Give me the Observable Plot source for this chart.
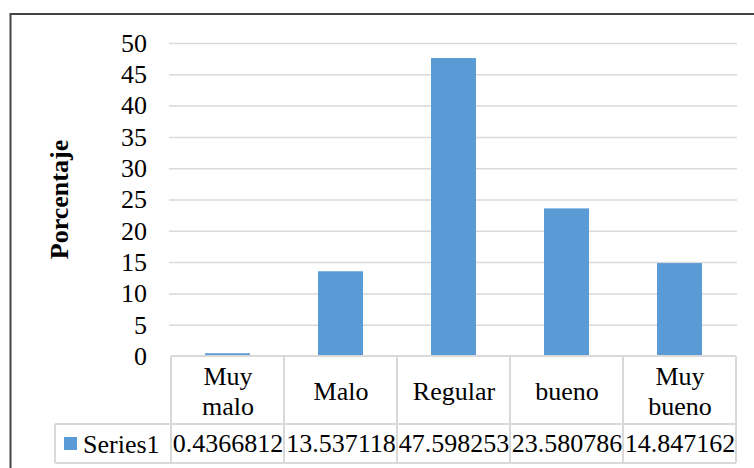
<!DOCTYPE html>
<html>
<head>
<meta charset="utf-8">
<script src="https://cdn.jsdelivr.net/npm/d3@7"></script>
<script src="https://cdn.jsdelivr.net/npm/@observablehq/plot@0.6"></script>
<style>
  html, body { margin: 0; padding: 0; background: #fff; }
  #chart { position: relative; width: 754px; height: 468px; overflow: hidden; }
</style>
</head>
<body>
<div id="chart"></div>
<script>
const categories = ["Muy malo", "Malo", "Regular", "bueno", "Muy bueno"];
const categoryLabels = ["Muy\nmalo", "Malo", "Regular", "bueno", "Muy\nbueno"];
const values = [0.4366812, 13.537118, 47.598253, 23.580786, 14.847162];
const valueLabels = ["0.4366812", "13.537118", "47.598253", "23.580786", "14.847162"];
const seriesName = "Series1";
const yTicks = [0, 5, 10, 15, 20, 25, 30, 35, 40, 45, 50];
const yLabel = "Porcentaje";

const data = categories.map((c, i) => ({cat: c, label: categoryLabels[i], value: values[i], vlabel: valueLabels[i]}));

const font = "'Liberation Serif', 'Times New Roman', serif";
const barColor = "#5b9bd5";
const gridColor = "#d9d9d9";
const fs = 26;

const chart = Plot.plot({
  width: 754,
  height: 468,
  marginLeft: 169,
  marginRight: 17,
  marginTop: 43,
  marginBottom: 112,
  style: {fontFamily: font, fontSize: fs + "px", color: "#000", background: "#fff"},
  x: {domain: categories, padding: 0, axis: null},
  y: {domain: [0, 50], axis: null},
  marks: [
    Plot.ruleY(yTicks.filter(d => d > 0), {stroke: gridColor, strokeWidth: 1.5}),
    Plot.barY(data, {x: "cat", y: "value", fill: barColor, insetLeft: 34, insetRight: 34}),
    Plot.text(yTicks, {x: () => categories[0], y: d => d, text: d => String(d), textAnchor: "end", dx: -81, fontSize: fs, fill: "#000"}),
    Plot.text(data, {x: "cat", y: () => 0, text: "label", dy: 34, fontSize: fs, lineHeight: 1.15, fill: "#000"}),
    Plot.text(data, {x: "cat", y: () => 0, text: "vlabel", dy: 87, fontSize: fs, fill: "#000"})
  ]
});

document.getElementById("chart").appendChild(chart);

// Table grid and extra elements via Plot's scales
const xs = chart.scale("x");
const ys = chart.scale("y");
const bw = xs.bandwidth;
const svg = d3.select(chart);
const y0 = ys.apply(0);
const rowDiv = y0 + 68;
const rowBot = y0 + 107;
const xRight = xs.apply(categories[categories.length - 1]) + bw;
const xLeft = xs.apply(categories[0]);
const legendLeft = 55;

const g = svg.append("g").attr("stroke", gridColor).attr("stroke-width", 2).attr("fill", "none");
g.append("line").attr("x1", xLeft).attr("x2", xRight).attr("y1", y0).attr("y2", y0);
g.append("line").attr("x1", legendLeft).attr("x2", xRight).attr("y1", rowDiv).attr("y2", rowDiv);
g.append("line").attr("x1", legendLeft).attr("x2", xRight).attr("y1", rowBot).attr("y2", rowBot);
g.append("line").attr("x1", legendLeft).attr("x2", legendLeft).attr("y1", rowDiv).attr("y2", rowBot);
categories.forEach(c => {
  const x = xs.apply(c);
  g.append("line").attr("x1", x).attr("x2", x).attr("y1", y0).attr("y2", rowBot);
});
g.append("line").attr("x1", xRight).attr("x2", xRight).attr("y1", y0).attr("y2", rowBot);

// legend key
svg.append("rect").attr("x", 64).attr("y", rowDiv + 13).attr("width", 13).attr("height", 13).attr("fill", barColor);
svg.append("text").attr("x", 83).attr("y", (rowDiv + rowBot) / 2).attr("dy", "0.35em")
  .attr("text-anchor", "start")
  .style("font-family", font).style("font-size", fs + "px").attr("fill", "#000").text(seriesName);

// y axis title
svg.append("text")
  .attr("transform", `translate(68, ${(ys.apply(0) + ys.apply(50)) / 2}) rotate(-90)`)
  .attr("text-anchor", "middle")
  .style("font-family", font).style("font-size", fs + "px").style("font-weight", "bold").attr("fill", "#000")
  .text(yLabel);

// outer chart border
svg.append("rect").attr("x", 10.5).attr("y", 14).attr("width", 760).attr("height", 470)
  .attr("fill", "none").attr("stroke", "#444").attr("stroke-width", 2);
</script>
</body>
</html>
